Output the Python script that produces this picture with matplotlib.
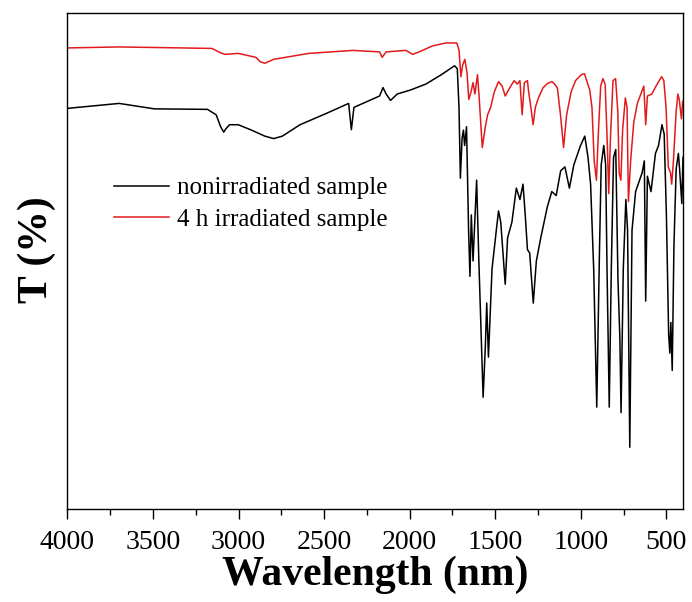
import matplotlib
matplotlib.use("Agg")
import matplotlib.pyplot as plt
from matplotlib.ticker import MultipleLocator

plt.rcParams['font.family'] = ['Liberation Serif', 'DejaVu Serif']

# wavenumber readings (cm-1) and transmittance (arb. %)
wn_black = [4000, 3698, 3492, 3182, 3131, 3105, 3087, 3074, 3053, 3002, 2924, 2847,
            2795, 2744, 2641, 2486, 2357, 2341, 2326, 2176, 2156, 2138, 2112, 2073,
            1996, 1906, 1815, 1738, 1722, 1712, 1704, 1694, 1686, 1679, 1668, 1656,
            1648, 1640, 1630, 1622, 1609, 1596, 1571, 1558, 1550, 1540, 1519, 1494,
            1481, 1468, 1455, 1442, 1428, 1403, 1377, 1356, 1338, 1325, 1312, 1299,
            1278, 1260, 1234, 1196, 1170, 1144, 1118, 1093, 1067, 1041, 1002, 977,
            958, 943, 925, 907, 891, 881, 866, 855, 847, 834, 822, 809, 796, 783,
            772, 765, 752, 737, 727, 714, 701, 680, 642, 629, 621, 611, 590, 564,
            546, 526, 513, 500, 487, 480, 474, 466, 456, 443, 430, 423, 410, 403]
t_black = [80.8, 81.8, 80.7, 80.6, 79.5, 77.1, 76.0, 76.7, 77.5, 77.5, 76.4, 75.2,
           74.7, 75.2, 77.5, 79.8, 81.8, 76.5, 81.0, 83.3, 85.0, 83.7, 82.4, 83.7,
           84.5, 85.7, 87.6, 89.4, 88.8, 81.0, 66.7, 74.8, 76.4, 73.3, 77.1, 56.2,
           46.9, 59.3, 50.0, 56.2, 66.3, 50.0, 22.5, 32.9, 41.5, 30.6, 48.4, 56.2,
           60.1, 57.8, 51.6, 45.3, 54.7, 57.8, 64.7, 62.4, 65.5, 59.3, 52.3, 51.6,
           41.5, 50.0, 54.7, 60.9, 64.0, 63.2, 68.2, 69.0, 64.7, 69.4, 73.3, 75.2,
           70.9, 65.5, 48.4, 20.5, 52.3, 69.4, 73.3, 69.4, 48.4, 20.5, 48.4, 70.9,
           72.5, 46.1, 34.5, 19.4, 48.4, 62.4, 56.2, 12.4, 56.2, 64.0, 67.8, 70.2,
           41.9, 67.1, 64.0, 71.7, 73.3, 77.5, 75.6, 59.3, 35.3, 31.4, 37.6, 27.9,
           53.1, 68.6, 71.7, 68.6, 61.6, 70.9]

wn_red = [4000, 3698, 3156, 3105, 3079, 3002, 2899, 2873, 2847, 2795, 2589, 2331,
          2176, 2161, 2138, 2022, 1983, 1945, 1867, 1790, 1725, 1712, 1701, 1691,
          1678, 1665, 1655, 1642, 1630, 1619, 1604, 1594, 1576, 1558, 1545, 1527,
          1506, 1481, 1460, 1442, 1416, 1390, 1372, 1356, 1343, 1330, 1312, 1305,
          1292, 1279, 1266, 1248, 1222, 1196, 1170, 1155, 1137, 1119, 1101, 1083,
          1057, 1031, 997, 979, 966, 948, 935, 922, 909, 896, 884, 871, 858, 845,
          837, 827, 812, 797, 784, 776, 766, 756, 740, 730, 722, 709, 691, 670,
          645, 632, 621, 611, 585, 567, 549, 528, 515, 502, 489, 476, 469, 459,
          443, 433, 425, 412, 405]
t_red = [93.0, 93.2, 92.9, 92.0, 91.7, 91.9, 91.1, 90.2, 89.9, 90.7, 91.9, 92.5,
         92.2, 91.1, 92.2, 92.5, 91.7, 92.2, 93.4, 94.0, 94.0, 92.6, 87.2, 89.5,
         90.7, 88.0, 82.6, 84.1, 86.0, 83.7, 87.6, 82.9, 72.9, 77.1, 79.5, 81.0,
         84.1, 86.2, 85.3, 83.3, 84.9, 86.4, 85.7, 86.4, 79.5, 86.0, 86.4, 84.1,
         81.0, 77.5, 81.0, 82.9, 84.9, 85.8, 86.2, 85.8, 84.9, 79.5, 72.9, 79.5,
         84.1, 86.4, 87.6, 87.8, 86.4, 84.5, 81.0, 70.2, 66.3, 77.1, 85.3, 86.8,
         85.7, 73.3, 63.6, 74.8, 86.4, 86.8, 80.2, 67.8, 66.3, 76.4, 82.9, 81.0,
         62.0, 70.2, 77.9, 81.8, 84.1, 85.3, 77.5, 83.3, 83.7, 84.9, 86.0, 87.2,
         86.4, 81.0, 69.0, 67.8, 65.5, 70.2, 80.2, 83.7, 82.6, 78.7, 82.2]

fig = plt.figure(figsize=(6.92, 6.02), dpi=100)
ax = fig.add_axes([0.0975, 0.155, 0.8895, 0.823])

ax.plot(wn_black, t_black, color='black', lw=1.1, label='nonirradiated sample')
ax.plot(wn_red, t_red, color='#e31a1c', lw=1.1, label='4 h irradiated sample')

ax.set_xlim(4000, 403)
ax.set_ylim(0, 100)
ax.xaxis.set_major_locator(MultipleLocator(500))
ax.xaxis.set_minor_locator(MultipleLocator(250))
ax.tick_params(axis='x', which='major', direction='out', length=7, width=1,
               labelsize=20, pad=8)
ax.tick_params(axis='x', which='minor', direction='out', length=4, width=1)
ax.set_yticks([])
for s in ax.spines.values():
    s.set_linewidth(1.0)

ax.set_xlabel('Wavelength (nm)', fontsize=30, fontweight='bold', labelpad=1)
ax.set_ylabel('T (%)', fontsize=30, fontweight='bold')
ax.yaxis.set_label_coords(-0.018, 0.522)

ax.legend(loc='upper left', bbox_to_anchor=(0.06, 0.69), frameon=False,
          fontsize=18, handlelength=2.2, handletextpad=0.3, labelspacing=0.35,
          borderaxespad=0)

fig.savefig('out.png', dpi=100)
